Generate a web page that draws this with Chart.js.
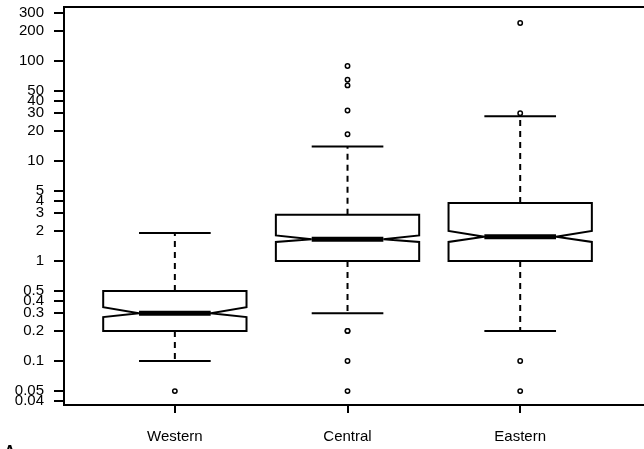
<!DOCTYPE html>
<html>
<head>
<meta charset="utf-8">
<script src="https://cdn.jsdelivr.net/npm/chart.js@4"></script>
<style>
  html, body { margin: 0; padding: 0; background: #fff; overflow: hidden; }
  #boxChart { display: block; }
</style>
</head>
<body>
<canvas id="boxChart" width="644" height="449"></canvas>
<script>
// data
const categories = ['Western', 'Central', 'Eastern'];
const q1 = [0.2, 1, 1];
const median = [0.3, 1.65, 1.75];
const q3 = [0.5, 2.9, 3.8];
const notchLo = [0.275, 1.55, 1.55];
const notchHi = [0.345, 1.8, 2.0];
const whiskerLo = [0.1, 0.3, 0.2];
const whiskerHi = [1.9, 14, 28];
const outliers = [
    [0.05],
    [0.2, 0.2, 0.1, 0.05, 18.5, 32, 57, 65, 89],
    [0.1, 0.05, 30, 240]
];
const yTicks = [300, 200, 100, 50, 40, 30, 20, 10, 5, 4, 3, 2, 1, 0.5, 0.4, 0.3, 0.2, 0.1, 0.05, 0.04];
const yTickLabels = ['300', '200', '100', '50', '40', '30', '20', '10', '5', '4', '3', '2', '1', '0.5', '0.4', '0.3', '0.2', '0.1', '0.05', '0.04'];

const outlierPoints = [];
outliers.forEach((vals, i) => {
    vals.forEach(v => outlierPoints.push({ x: i + 1, y: v }));
});

// draws the notched boxes with the chart's own scales
const boxPlugin = {
    id: 'notchedBoxes',
    beforeDatasetsDraw(chart) {
        const ctx = chart.ctx;
        const xs = chart.scales.x;
        const ys = chart.scales.y;
        ctx.save();
        ctx.strokeStyle = '#000';
        categories.forEach((name, i) => {
            const cx = xs.getPixelForValue(i + 1);
            const hw = xs.getPixelForValue(i + 1 + 0.415) - cx;
            const yq1 = ys.getPixelForValue(q1[i]);
            const yq3 = ys.getPixelForValue(q3[i]);
            const ymed = ys.getPixelForValue(median[i]);
            const ynl = ys.getPixelForValue(notchLo[i]);
            const ynh = ys.getPixelForValue(notchHi[i]);
            const ywl = ys.getPixelForValue(whiskerLo[i]);
            const ywh = ys.getPixelForValue(whiskerHi[i]);

            // whiskers
            ctx.lineWidth = 2;
            ctx.setLineDash([6, 5]);
            ctx.beginPath();
            ctx.moveTo(cx, yq3); ctx.lineTo(cx, ywh);
            ctx.moveTo(cx, yq1); ctx.lineTo(cx, ywl);
            ctx.stroke();
            ctx.setLineDash([]);
            // staples
            ctx.beginPath();
            ctx.moveTo(cx - hw / 2, ywh); ctx.lineTo(cx + hw / 2, ywh);
            ctx.moveTo(cx - hw / 2, ywl); ctx.lineTo(cx + hw / 2, ywl);
            ctx.stroke();

            // notched box
            ctx.beginPath();
            ctx.moveTo(cx - hw, yq3);
            ctx.lineTo(cx - hw, ynh);
            ctx.lineTo(cx - hw / 2, ymed);
            ctx.lineTo(cx - hw, ynl);
            ctx.lineTo(cx - hw, yq1);
            ctx.lineTo(cx + hw, yq1);
            ctx.lineTo(cx + hw, ynl);
            ctx.lineTo(cx + hw / 2, ymed);
            ctx.lineTo(cx + hw, ynh);
            ctx.lineTo(cx + hw, yq3);
            ctx.closePath();
            ctx.fillStyle = '#fff';
            ctx.fill();
            ctx.stroke();

            // median
            ctx.lineWidth = 5;
            ctx.beginPath();
            ctx.moveTo(cx - hw / 2, ymed); ctx.lineTo(cx + hw / 2, ymed);
            ctx.stroke();
        });

        // top frame line
        const a = chart.chartArea;
        ctx.lineWidth = 2;
        ctx.beginPath();
        ctx.moveTo(a.left, a.top); ctx.lineTo(a.right + 2, a.top);
        ctx.stroke();
        ctx.restore();
    },
    afterDraw(chart) {
        const ctx = chart.ctx;
        ctx.save();
        ctx.fillStyle = '#000';
        ctx.font = 'bold 16px "Liberation Sans", Arial, sans-serif';
        ctx.textBaseline = 'top';
        ctx.fillText('A', 4, 445);
        ctx.restore();
    }
};

const ctx = document.getElementById('boxChart').getContext('2d');
new Chart(ctx, {
    type: 'scatter',
    data: {
        datasets: [{
            label: 'outliers',
            data: outlierPoints,
            pointStyle: 'circle',
            pointRadius: 2.2,
            pointBorderWidth: 1.5,
            pointBorderColor: '#000',
            pointBackgroundColor: '#fff'
        }]
    },
    options: {
        responsive: false,
        animation: false,
        devicePixelRatio: 1,
        layout: { autoPadding: false, padding: { top: 7, right: 0, left: 0, bottom: 0 } },
        plugins: { legend: { display: false }, tooltip: { enabled: false } },
        scales: {
            x: {
                type: 'linear',
                min: 0.358,
                max: 3.717,
                afterBuildTicks: s => { s.ticks = [1, 2, 3].map(v => ({ value: v })); },
                afterFit: s => { s.height = 44; s.paddingLeft = 0; s.paddingRight = 0; },
                ticks: {
                    autoSkip: false,
                    maxRotation: 0,
                    color: '#000',
                    padding: 15,
                    font: { family: '"Liberation Sans", Arial, sans-serif', size: 15 },
                    callback: v => categories[Math.round(v) - 1]
                },
                grid: { drawOnChartArea: false, drawTicks: true, tickLength: 8, tickColor: '#000', lineWidth: 2 },
                border: { display: true, color: '#000', width: 2 }
            },
            y: {
                type: 'logarithmic',
                min: 0.0363,
                max: 346.7,
                afterBuildTicks: s => { s.ticks = yTicks.map(v => ({ value: v })); },
                afterFit: s => { s.width = 64; s.paddingTop = 0; s.paddingBottom = 0; },
                ticks: {
                    autoSkip: false,
                    color: '#000',
                    padding: 10,
                    font: { family: '"Liberation Sans", Arial, sans-serif', size: 15 },
                    callback: (v, i) => yTickLabels[i]
                },
                grid: { drawOnChartArea: false, drawTicks: true, tickLength: 10, tickColor: '#000', lineWidth: 2 },
                border: { display: true, color: '#000', width: 2 }
            }
        }
    },
    plugins: [boxPlugin]
});
</script>
</body>
</html>
